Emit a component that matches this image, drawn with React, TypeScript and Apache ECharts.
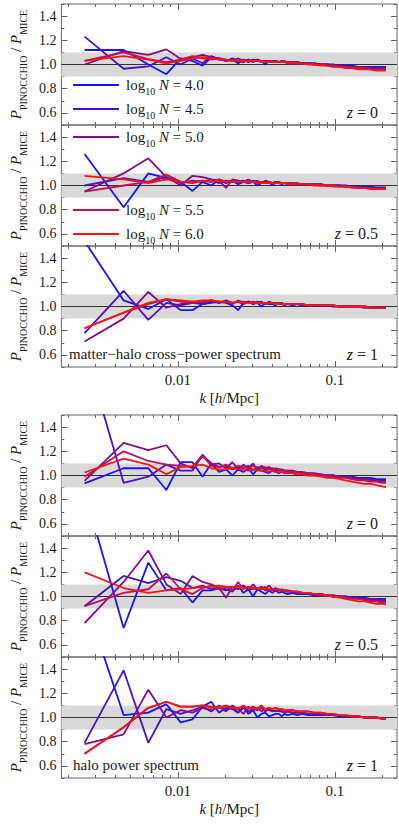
import React, { useEffect, useRef } from 'react';
import * as echarts from 'echarts';

// wavenumbers k [h/Mpc] of the plotted bins
const K = [
  0.00255, 0.00452, 0.00649, 0.00846, 0.01043, 0.0124, 0.01437, 0.01634, 0.01831, 0.02028,
  0.02225, 0.02422, 0.02619, 0.02816, 0.03013, 0.0321, 0.03407, 0.03604, 0.03801, 0.03998,
  0.04195, 0.04392, 0.04589, 0.04786, 0.04983, 0.05377, 0.05771, 0.06165, 0.06756, 0.07347,
  0.08135, 0.08923, 0.09711, 0.10696, 0.11681, 0.12863, 0.14045, 0.15424, 0.16803, 0.18379,
  0.19955, 0.21137,
];

const NAMES = ['4.0', '4.5', '5.0', '5.5', '6.0'];
const COLORS = ['#1414ff', '#4a10cc', '#820c8e', '#c21050', '#ff1212'];

// matter-halo cross-power spectrum, z = 0
const CROSS_Z0_N40 = [1.12,1.12,1.00,0.92,1.05,1.03,0.99,1.06,1.05,1.03,1.04,1.01,1.04,1.02,1.04,1.03,1.03,1.00,1.03,1.02,1.03,1.02,1.02,1.03,1.01,1.02,1.02,1.01,1.01,1.01,1.00,1.00,1.00,0.99,0.99,0.99,0.98,0.98,0.98,0.98,0.98,0.98];
const CROSS_Z0_N45 = [1.23,0.965,0.985,1.06,1.00,1.05,1.01,1.07,1.04,1.03,1.05,1.03,1.02,1.04,1.03,1.04,1.02,1.03,1.03,1.02,1.03,1.02,1.03,1.02,1.02,1.02,1.02,1.01,1.01,1.01,1.00,1.00,0.99,0.99,0.99,0.98,0.98,0.98,0.97,0.97,0.97,0.97];
const CROSS_Z0_N50 = [1.00,1.11,1.08,1.125,1.045,1.06,1.08,1.06,1.05,1.04,1.03,1.05,1.03,1.04,1.02,1.04,1.03,1.03,1.02,1.03,1.03,1.02,1.03,1.02,1.02,1.02,1.02,1.01,1.01,1.01,1.00,1.00,0.99,0.99,0.98,0.98,0.98,0.97,0.97,0.97,0.96,0.96];
const CROSS_Z0_N55 = [1.03,1.10,1.045,1.02,1.04,1.07,1.05,1.04,1.05,1.03,1.04,1.03,1.04,1.03,1.03,1.03,1.03,1.02,1.03,1.02,1.02,1.02,1.02,1.02,1.02,1.02,1.01,1.01,1.01,1.00,1.00,0.99,0.99,0.98,0.98,0.97,0.97,0.97,0.96,0.96,0.96,0.96];
const CROSS_Z0_N60 = [1.03,1.07,1.04,1.01,1.03,1.05,1.06,1.05,1.04,1.04,1.03,1.03,1.03,1.03,1.03,1.03,1.02,1.02,1.02,1.02,1.02,1.02,1.02,1.02,1.01,1.01,1.01,1.01,1.00,1.00,0.99,0.99,0.98,0.98,0.97,0.97,0.96,0.96,0.96,0.95,0.95,0.95];

// matter-halo cross-power spectrum, z = 0.5
const CROSS_Z05_N40 = [1.26,0.82,1.10,1.06,1.03,0.955,1.03,1.00,1.05,1.02,1.04,1.01,1.03,1.02,1.03,1.00,1.02,1.03,1.02,1.01,1.02,1.02,1.01,1.02,1.01,1.01,1.01,1.01,1.01,1.01,1.01,1.00,1.00,1.00,1.00,0.99,0.99,0.99,0.99,0.985,0.985,0.985];
const CROSS_Z05_N45 = [1.00,1.06,1.03,1.07,1.02,1.04,1.03,1.05,1.02,1.04,1.03,1.03,1.04,1.02,1.04,1.03,1.03,1.02,1.03,1.02,1.03,1.02,1.02,1.02,1.02,1.02,1.01,1.01,1.01,1.01,1.01,1.00,1.00,1.00,0.99,0.99,0.99,0.98,0.98,0.98,0.98,0.98];
const CROSS_Z05_N50 = [0.95,1.10,1.225,1.07,1.00,1.08,1.07,1.05,1.04,0.98,1.05,1.04,1.03,1.05,1.03,1.04,1.02,1.04,1.03,1.02,1.03,1.03,1.02,1.02,1.02,1.02,1.02,1.01,1.01,1.01,1.01,1.00,1.00,1.00,0.99,0.99,0.98,0.98,0.98,0.98,0.97,0.97];
const CROSS_Z05_N55 = [0.95,1.00,1.03,1.09,1.03,1.02,1.04,1.03,1.05,1.03,1.04,1.03,1.03,1.04,1.03,1.03,1.03,1.02,1.03,1.02,1.02,1.02,1.02,1.02,1.02,1.02,1.01,1.01,1.01,1.01,1.00,1.00,1.00,0.99,0.99,0.99,0.98,0.98,0.98,0.97,0.97,0.97];
const CROSS_Z05_N60 = [1.08,1.05,1.02,1.05,1.03,1.03,1.04,1.03,1.04,1.03,1.03,1.03,1.03,1.03,1.03,1.02,1.02,1.02,1.02,1.02,1.02,1.02,1.02,1.02,1.01,1.01,1.01,1.01,1.01,1.00,1.00,1.00,0.99,0.99,0.99,0.98,0.98,0.98,0.97,0.97,0.97,0.97];

// matter-halo cross-power spectrum, z = 1
const CROSS_Z1_N40 = [1.54,1.05,0.98,1.06,0.97,0.97,1.02,1.03,1.04,1.03,1.01,0.97,1.03,1.04,1.02,1.03,1.00,1.03,1.02,1.02,1.01,1.03,1.02,1.01,1.02,1.01,1.02,1.01,1.01,1.01,1.01,1.01,1.00,1.00,1.00,1.00,1.00,0.99,0.99,0.99,0.99,0.99];
const CROSS_Z1_N45 = [0.78,1.13,0.89,1.03,1.01,1.03,1.02,1.04,1.03,1.05,1.03,1.04,1.02,1.04,1.03,1.03,1.04,1.02,1.03,1.03,1.02,1.03,1.02,1.02,1.02,1.02,1.02,1.01,1.01,1.01,1.01,1.01,1.01,1.00,1.00,1.00,1.00,1.00,0.99,0.99,0.99,0.99];
const CROSS_Z1_N50 = [0.71,0.90,1.12,0.99,1.02,1.04,1.03,1.05,1.03,1.04,1.02,1.05,1.03,1.04,1.03,1.04,1.03,1.02,1.04,1.03,1.03,1.02,1.03,1.02,1.02,1.02,1.02,1.02,1.01,1.01,1.01,1.01,1.01,1.00,1.00,1.00,1.00,0.99,0.99,0.99,0.99,0.99];
const CROSS_Z1_N55 = [0.82,0.95,1.02,1.06,1.04,1.03,1.04,1.05,1.04,1.04,1.03,1.04,1.04,1.03,1.04,1.03,1.03,1.03,1.03,1.03,1.02,1.03,1.02,1.02,1.02,1.02,1.02,1.02,1.01,1.01,1.01,1.01,1.01,1.00,1.00,1.00,1.00,1.00,0.99,0.99,0.99,0.99];
const CROSS_Z1_N60 = [0.82,0.95,1.03,1.06,1.05,1.04,1.05,1.05,1.04,1.04,1.03,1.04,1.03,1.03,1.03,1.03,1.03,1.03,1.03,1.03,1.02,1.02,1.02,1.02,1.02,1.02,1.02,1.02,1.01,1.01,1.01,1.01,1.01,1.00,1.00,1.00,1.00,1.00,0.99,0.99,0.99,0.99];

// halo power spectrum, z = 0
const HALO_Z0_N40 = [0.935,1.06,1.06,0.88,1.11,1.11,0.99,1.10,1.03,1.05,1.00,1.05,1.03,1.06,1.01,1.05,1.04,1.03,1.02,1.04,1.03,1.02,1.03,1.02,1.02,1.02,1.01,1.01,1.01,1.01,1.00,1.00,1.00,0.99,0.99,0.99,0.98,0.98,0.98,0.97,0.97,0.97];
const HALO_Z0_N45 = [2.05,0.94,0.99,1.09,1.04,1.04,1.17,1.10,1.07,1.08,1.05,1.07,1.06,1.08,1.04,1.07,1.06,1.05,1.05,1.06,1.04,1.05,1.04,1.04,1.03,1.03,1.03,1.02,1.02,1.01,1.01,1.00,1.00,0.99,0.99,0.98,0.98,0.97,0.97,0.96,0.96,0.96];
const HALO_Z0_N50 = [0.955,1.27,1.21,1.25,1.10,1.06,1.16,1.09,1.10,1.06,1.11,1.05,1.09,1.06,1.10,1.05,1.08,1.06,1.07,1.05,1.06,1.05,1.05,1.04,1.04,1.04,1.03,1.03,1.02,1.02,1.01,1.00,1.00,0.99,0.99,0.98,0.97,0.97,0.96,0.96,0.95,0.95];
const HALO_Z0_N55 = [0.99,1.20,1.12,1.09,1.08,1.07,1.17,1.08,1.07,1.09,1.06,1.08,1.07,1.06,1.08,1.06,1.06,1.07,1.05,1.06,1.05,1.05,1.04,1.04,1.04,1.03,1.03,1.02,1.02,1.01,1.00,1.00,0.99,0.98,0.98,0.97,0.96,0.96,0.95,0.95,0.94,0.94];
const HALO_Z0_N60 = [1.025,1.14,1.09,1.01,1.07,1.08,1.09,1.06,1.05,1.05,1.06,1.05,1.05,1.04,1.05,1.04,1.04,1.04,1.03,1.04,1.03,1.03,1.03,1.02,1.02,1.02,1.01,1.01,1.00,1.00,0.99,0.98,0.98,0.97,0.96,0.95,0.94,0.93,0.93,0.92,0.91,0.905];

// halo power spectrum, z = 0.5
const HALO_Z05_N40 = [1.87,0.74,1.28,1.05,1.07,0.95,1.05,1.05,1.07,1.06,1.04,1.09,1.03,1.06,1.00,1.06,1.04,1.02,1.05,1.03,1.05,1.03,1.04,1.03,1.02,1.03,1.02,1.02,1.02,1.01,1.01,1.01,1.00,1.00,1.00,0.99,0.99,0.99,0.98,0.98,0.98,0.98];
const HALO_Z05_N45 = [0.92,1.17,1.11,1.16,1.13,1.07,1.09,1.06,1.07,1.05,1.08,1.06,1.09,1.05,1.07,1.06,1.08,1.05,1.06,1.05,1.05,1.06,1.04,1.05,1.04,1.04,1.03,1.03,1.03,1.02,1.02,1.01,1.01,1.00,1.00,0.99,0.99,0.98,0.98,0.98,0.97,0.97];
const HALO_Z05_N50 = [0.78,1.12,1.38,1.10,1.02,1.17,1.12,1.10,1.07,0.99,1.08,1.06,1.09,1.05,1.10,1.06,1.08,1.06,1.09,1.06,1.07,1.05,1.06,1.05,1.05,1.04,1.04,1.03,1.03,1.02,1.02,1.01,1.01,1.00,0.99,0.99,0.98,0.98,0.97,0.97,0.96,0.96];
const HALO_Z05_N55 = [0.92,1.03,1.06,1.19,1.06,1.02,1.07,1.09,1.06,1.08,1.05,1.12,1.06,1.08,1.06,1.07,1.06,1.08,1.05,1.06,1.05,1.06,1.05,1.05,1.04,1.04,1.04,1.03,1.03,1.02,1.02,1.01,1.00,1.00,0.99,0.98,0.98,0.97,0.96,0.96,0.95,0.95];
const HALO_Z05_N60 = [1.20,1.07,1.03,1.05,1.06,1.07,1.08,1.08,1.09,1.08,1.08,1.08,1.07,1.08,1.07,1.07,1.07,1.06,1.06,1.06,1.06,1.05,1.05,1.05,1.05,1.04,1.04,1.03,1.03,1.02,1.01,1.01,1.00,0.99,0.98,0.97,0.96,0.96,0.95,0.94,0.94,0.935];

// halo power spectrum, z = 1
const HALO_Z1_N40 = [1.98,1.02,1.04,1.11,0.96,0.985,1.09,1.13,1.04,1.08,1.07,1.04,1.09,1.03,1.06,1.00,1.03,1.04,1.01,1.02,1.03,1.03,1.01,1.03,1.02,1.03,1.02,1.03,1.02,1.02,1.02,1.02,1.02,1.01,1.01,1.01,1.01,1.00,1.00,1.00,0.99,0.99];
const HALO_Z1_N45 = [0.79,1.39,0.79,1.07,1.03,1.06,1.09,1.05,1.10,1.06,1.09,1.04,1.08,1.05,1.07,1.06,1.08,1.05,1.07,1.05,1.06,1.05,1.05,1.04,1.05,1.04,1.04,1.04,1.03,1.03,1.03,1.02,1.02,1.02,1.01,1.01,1.01,1.00,1.00,1.00,0.99,0.99];
const HALO_Z1_N50 = [0.78,0.86,1.23,1.00,1.06,1.04,1.08,1.06,1.09,1.05,1.10,1.07,1.03,1.09,1.06,1.08,1.05,1.07,1.06,1.06,1.05,1.06,1.05,1.04,1.05,1.04,1.04,1.04,1.03,1.03,1.03,1.02,1.02,1.02,1.01,1.01,1.01,1.00,1.00,1.00,0.99,0.99];
const HALO_Z1_N55 = [0.70,0.92,1.08,1.13,1.09,1.09,1.10,1.09,1.08,1.10,1.08,1.07,1.10,1.07,1.09,1.07,1.10,1.06,1.08,1.07,1.08,1.06,1.07,1.06,1.06,1.06,1.05,1.05,1.05,1.04,1.04,1.03,1.03,1.02,1.02,1.01,1.01,1.00,1.00,1.00,0.99,0.99];
const HALO_Z1_N60 = [0.70,0.92,1.08,1.13,1.09,1.09,1.10,1.08,1.09,1.09,1.08,1.08,1.09,1.08,1.08,1.07,1.09,1.07,1.08,1.07,1.08,1.07,1.07,1.06,1.06,1.06,1.05,1.05,1.05,1.04,1.04,1.03,1.03,1.02,1.02,1.01,1.01,1.00,1.00,1.00,0.99,0.99];

const PANEL_DATA = [
  [CROSS_Z0_N40, CROSS_Z0_N45, CROSS_Z0_N50, CROSS_Z0_N55, CROSS_Z0_N60],
  [CROSS_Z05_N40, CROSS_Z05_N45, CROSS_Z05_N50, CROSS_Z05_N55, CROSS_Z05_N60],
  [CROSS_Z1_N40, CROSS_Z1_N45, CROSS_Z1_N50, CROSS_Z1_N55, CROSS_Z1_N60],
  [HALO_Z0_N40, HALO_Z0_N45, HALO_Z0_N50, HALO_Z0_N55, HALO_Z0_N60],
  [HALO_Z05_N40, HALO_Z05_N45, HALO_Z05_N50, HALO_Z05_N55, HALO_Z05_N60],
  [HALO_Z1_N40, HALO_Z1_N45, HALO_Z1_N50, HALO_Z1_N55, HALO_Z1_N60],
];
const REDSHIFTS = ['0', '0.5', '1', '0', '0.5', '1'];
const CAPTIONS = ['', '', 'matter\u2212halo cross\u2212power spectrum', '', '', 'halo power spectrum'];

const X_MAJOR = [0.01, 0.1];
const X_MINOR = [0.002, 0.003, 0.004, 0.005, 0.006, 0.007, 0.008, 0.009, 0.02, 0.03, 0.04, 0.05, 0.06, 0.07, 0.08, 0.09, 0.2];
const Y_MAJOR = [0.6, 0.8, 1.0, 1.2, 1.4];
const Y_MINOR = [0.5, 0.7, 0.9, 1.1, 1.3, 1.5];

// layout
const SERIF = "'Liberation Serif', 'DejaVu Serif', serif";
const TOPS = [4, 125, 246, 415, 536, 657];
const PH = 121;
const LEFT = 51;
const RIGHT = 2;
const K_MIN = 0.001816;
const K_MAX = 0.2485;
const FRAME = '#666';
const TXT = '#1a1a1a';

export default function App() {
  const ref = useRef<HTMLDivElement>(null);
  useEffect(() => {
    document.body.style.margin = '0';
    if (!ref.current) return;
    const chart = echarts.init(ref.current, undefined, { renderer: 'svg' });
    const xmin = Math.log10(K_MIN);
    const xmax = Math.log10(K_MAX);
    const grids: any[] = [];
    const xAxes: any[] = [];
    const yAxes: any[] = [];
    const series: any[] = [];
    const graphics: any[] = [];

    PANEL_DATA.forEach((panel, g) => {
      const isBottom = g === 2 || g === 5;
      grids.push({ left: LEFT, right: RIGHT, top: TOPS[g], height: PH, show: true, borderColor: FRAME, borderWidth: 1, backgroundColor: 'transparent' });
      const xb = { type: 'value', gridIndex: g, min: xmin, max: xmax, splitLine: { show: false }, axisLine: { show: false } };
      const tick = (vals: number[], len: number) => ({ show: true, inside: true, length: len, customValues: vals.map((v) => Math.log10(v)), lineStyle: { color: FRAME, width: 1 } });
      xAxes.push({
        ...xb, position: 'bottom', axisTick: tick(X_MINOR, 3),
        axisLabel: {
          show: isBottom, customValues: X_MAJOR.map((v) => Math.log10(v)), margin: 5,
          formatter: (v: number) => (v < -1.5 ? '0.01' : '0.1'), fontFamily: SERIF, fontSize: 15, color: TXT,
        },
        name: isBottom ? '{i|k} [{i|h}/Mpc]' : '', nameLocation: 'middle', nameGap: 23,
        nameTextStyle: { fontFamily: SERIF, fontSize: 15, color: TXT, rich: { i: { fontFamily: SERIF, fontSize: 15, fontStyle: 'italic', color: TXT } } },
      });
      xAxes.push({ ...xb, position: 'top', axisTick: tick(X_MINOR, 3), axisLabel: { show: false } });
      xAxes.push({ ...xb, position: 'bottom', axisTick: tick(X_MAJOR, 6), axisLabel: { show: false } });
      xAxes.push({ ...xb, position: 'top', axisTick: tick(X_MAJOR, 6), axisLabel: { show: false } });

      const yb = { type: 'value', gridIndex: g, min: 0.5, max: 1.5, splitLine: { show: false }, axisLine: { show: false } };
      const ytick = (vals: number[], len: number) => ({ show: true, inside: true, length: len, customValues: vals, lineStyle: { color: FRAME, width: 1 } });
      yAxes.push({
        ...yb, position: 'left', axisTick: ytick(Y_MAJOR, 6),
        axisLabel: { show: true, customValues: Y_MAJOR, margin: 5, formatter: (v: number) => v.toFixed(1), fontFamily: SERIF, fontSize: 14, color: TXT },
        name: '{p|P}{s|PINOCCHIO}{t| / }{p|P}{s|MICE}', nameLocation: 'middle', nameRotate: 90, nameGap: 25,
        nameTextStyle: {
          fontFamily: SERIF, color: TXT,
          rich: {
            p: { fontFamily: SERIF, fontStyle: 'italic', fontSize: 15, lineHeight: 16, verticalAlign: 'top', color: TXT },
            t: { fontFamily: SERIF, fontSize: 15, lineHeight: 16, verticalAlign: 'top', color: TXT },
            s: { fontFamily: SERIF, fontSize: 10, lineHeight: 10, padding: [10, 0, 0, 0], verticalAlign: 'top', color: TXT },
          },
        },
      });
      yAxes.push({ ...yb, position: 'right', axisTick: ytick(Y_MAJOR, 6), axisLabel: { show: false } });
      yAxes.push({ ...yb, position: 'left', axisTick: ytick(Y_MINOR, 3), axisLabel: { show: false } });
      yAxes.push({ ...yb, position: 'right', axisTick: ytick(Y_MINOR, 3), axisLabel: { show: false } });

      panel.forEach((vals, j) => {
        const s: any = {
          type: 'line', name: NAMES[j], xAxisIndex: 4 * g, yAxisIndex: 4 * g,
          data: K.map((k, i) => [Math.log10(k), vals[i]]),
          showSymbol: false, symbol: 'none', clip: true,
          lineStyle: { color: COLORS[j], width: 1.8 }, itemStyle: { color: COLORS[j] },
          z: 3 + j,
        };
        if (j === 0) {
          s.markArea = { silent: true, z: 1, itemStyle: { color: '#d9d9d9' }, data: [[{ yAxis: 0.9 }, { yAxis: 1.1 }]] };
          s.markLine = { silent: true, z: 2, symbol: 'none', label: { show: false }, lineStyle: { color: '#333', width: 1, type: 'solid' }, data: [{ yAxis: 1.0 }] };
        }
        series.push(s);
      });

      graphics.push({
        type: 'text', right: 21, top: TOPS[g] + 100,
        style: { text: '{i|z} = ' + REDSHIFTS[g], fontFamily: SERIF, fontSize: 16, fill: TXT, rich: { i: { fontFamily: SERIF, fontStyle: 'italic', fontSize: 16, fill: TXT } } },
      });
      if (CAPTIONS[g]) {
        graphics.push({ type: 'text', left: g === 2 ? 69 : 73, top: TOPS[g] + 100, style: { text: CAPTIONS[g], fontFamily: SERIF, fontSize: 15, fill: TXT } });
      }
    });

    const LEG_TOPS = [77, 101, 129, 202, 226];
    const legends = NAMES.map((n, j) => ({
      data: [n], left: 73, top: LEG_TOPS[j], orient: 'vertical', icon: 'rect', itemWidth: 46, itemHeight: 2, padding: 0, itemGap: 0,
      selectedMode: false,
      formatter: (name: string) => `{a|log}{s|10}{i| N}{a| = ${name}}`,
      textStyle: {
        fontFamily: SERIF, color: TXT, padding: [0, 0, 0, 2],
        rich: {
          a: { fontFamily: SERIF, fontSize: 15, lineHeight: 16, verticalAlign: 'top', color: TXT },
          i: { fontFamily: SERIF, fontStyle: 'italic', fontSize: 15, lineHeight: 16, verticalAlign: 'top', color: TXT },
          s: { fontFamily: SERIF, fontSize: 10, lineHeight: 10, padding: [9, 0, 0, 0], verticalAlign: 'top', color: TXT },
        },
      },
    }));

    chart.setOption({
      animation: false,
      backgroundColor: '#fff',
      grid: grids,
      xAxis: xAxes,
      yAxis: yAxes,
      legend: legends,
      series,
      graphic: graphics,
    });
    return () => chart.dispose();
  }, []);
  return <div ref={ref} style={{ width: 399, height: 826 }} />;
}
